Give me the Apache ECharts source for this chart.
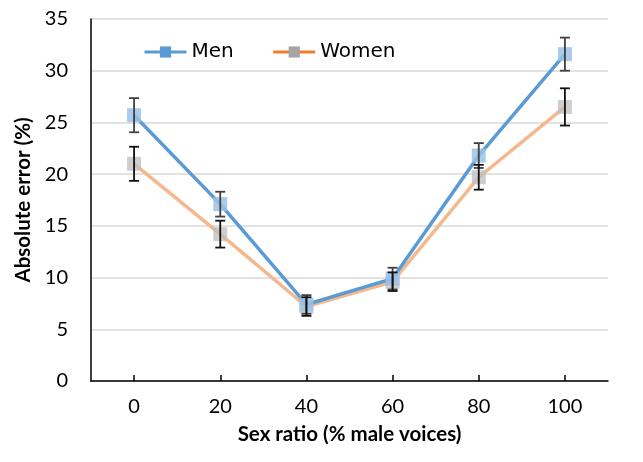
<!DOCTYPE html>
<html>
<head>
<meta charset="utf-8">
<script src="https://cdn.jsdelivr.net/npm/echarts@6/dist/echarts.min.js"></script>
<style>html,body{margin:0;padding:0;background:#fff;}#c{width:643px;height:462px;}</style>
</head>
<body>
<div id="c"></div>
<script>
const categories = ['0', '20', '40', '60', '80', '100'];
const menValues = [25.7, 17.1, 7.4, 9.9, 21.8, 31.6];
const menErr = [1.65, 1.2, 0.9, 1.05, 1.2, 1.6];
const womenValues = [21.0, 14.2, 7.2, 9.6, 19.7, 26.5];
const womenErr = [1.65, 1.3, 0.9, 0.9, 1.2, 1.8];
const yTicks = [0, 5, 10, 15, 20, 25, 30, 35];

const chart = echarts.init(document.getElementById('c'), null, {renderer: 'canvas'});

function errData(vals, errs) {
  return vals.map((v, i) => [i, v - errs[i], v + errs[i]]);
}
function errSeries(name, data, color) {
  return {
    type: 'custom',
    name: name,
    z: 5,
    silent: true,
    renderItem: function (params, api) {
      const x = api.value(0);
      const lo = api.coord([x, api.value(1)]);
      const hi = api.coord([x, api.value(2)]);
      const w = 5;
      const st = {stroke: color, lineWidth: 1.8};
      return {
        type: 'group',
        children: [
          {type: 'line', shape: {x1: lo[0], y1: lo[1], x2: hi[0], y2: hi[1]}, style: st},
          {type: 'line', shape: {x1: lo[0] - w, y1: lo[1], x2: lo[0] + w, y2: lo[1]}, style: st},
          {type: 'line', shape: {x1: hi[0] - w, y1: hi[1], x2: hi[0] + w, y2: hi[1]}, style: st}
        ]
      };
    },
    data: data
  };
}

const font = 'Lato, "Open Sans", sans-serif';

chart.setOption({
  animation: false,
  backgroundColor: '#fff',
  grid: {left: 91, right: 35, top: 19, bottom: 81, containLabel: false},
  legend: {
    left: 138,
    top: 37,
    itemWidth: 42,
    itemHeight: 14,
    itemGap: 38,
    textStyle: {fontFamily: '"DejaVu Sans", Verdana, sans-serif', fontSize: 20, color: '#000'},
    data: [
      {name: 'Men', itemStyle: {color: '#5B9BD5'}, lineStyle: {color: '#5B9BD5', width: 3}},
      {name: 'Women', itemStyle: {color: '#A5A5A5'}, lineStyle: {color: '#ED7D31', width: 3}}
    ]
  },
  xAxis: {
    type: 'category',
    data: categories,
    boundaryGap: true,
    name: 'Sex ratio (% male voices)',
    nameLocation: 'middle',
    nameGap: 43,
    nameTextStyle: {fontFamily: font, fontSize: 20.5, fontWeight: 'bold', color: '#000'},
    axisLine: {lineStyle: {color: '#000', width: 1.5}},
    axisTick: {show: true, alignWithLabel: true, inside: true, length: 6, lineStyle: {color: '#000', width: 1.5}},
    axisLabel: {fontFamily: font, fontSize: 20, color: '#000', margin: 16},
    splitLine: {show: false}
  },
  yAxis: {
    type: 'value',
    min: yTicks[0],
    max: yTicks[yTicks.length - 1],
    interval: 5,
    name: 'Absolute error (%)',
    nameLocation: 'middle',
    nameGap: 53,
    nameRotate: 90,
    nameTextStyle: {fontFamily: font, fontSize: 20.5, fontWeight: 'bold', color: '#000'},
    axisLine: {show: true, lineStyle: {color: '#000', width: 1.5}},
    axisTick: {show: false},
    axisLabel: {fontFamily: font, fontSize: 20, color: '#000', margin: 23},
    splitLine: {show: true, lineStyle: {color: '#D9D9D9', width: 1.5}}
  },
  series: [
    {
      name: 'Women',
      type: 'line',
      data: womenValues,
      z: 2,
      symbol: 'rect',
      symbolSize: 14,
      lineStyle: {color: '#F5B78C', width: 3.5},
      itemStyle: {color: 'rgba(190,190,190,0.75)'}
    },
    {
      name: 'Men',
      type: 'line',
      data: menValues,
      z: 3,
      symbol: 'rect',
      symbolSize: 14,
      lineStyle: {color: '#5B9BD5', width: 3.5},
      itemStyle: {color: 'rgba(155,194,230,0.85)'}
    },
    errSeries('menErr', errData(menValues, menErr), '#404040'),
    errSeries('womenErr', errData(womenValues, womenErr), '#111')
  ]
});
</script>
</body>
</html>
